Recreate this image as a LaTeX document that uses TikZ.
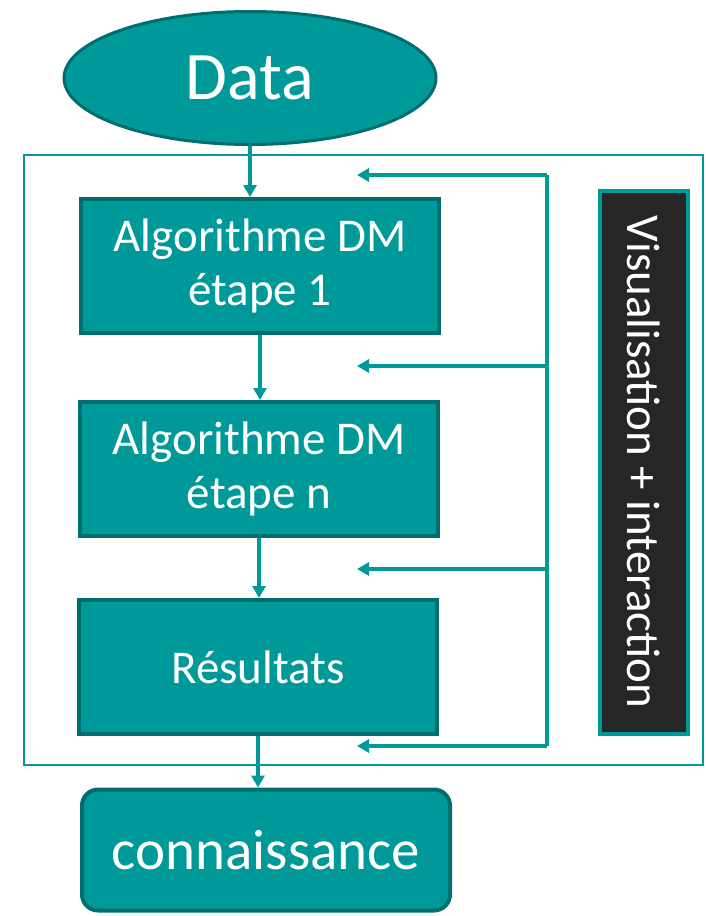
\documentclass[tikz,border=0pt]{standalone}
\usepackage{fontspec}
\setmainfont{Carlito}
\usepackage{tikz}
\usetikzlibrary{arrows.meta,shapes.geometric,positioning}
\definecolor{tealfill}{RGB}{0,153,153}
\definecolor{tealdark}{RGB}{0,110,110}
\definecolor{panelgray}{RGB}{38,38,38}

\begin{document}
\begin{tikzpicture}[x=1pt,y=-1pt,>={Triangle[length=12pt,width=13pt]},
                    flow/.style={->,draw=tealfill,line width=4pt},
                    algo node/.style={rectangle,draw=tealdark,fill=tealfill,line width=4pt,
                      text=white,minimum width=358pt,minimum height=134pt,align=center,
                      font=\fontsize{47}{54}\selectfont}]

  \useasboundingbox (0,0) rectangle (706,916);

  % main chain
  \node[ellipse,draw=tealdark,fill=tealfill,line width=3pt,text=white,inner sep=0pt,
        minimum width=372pt,minimum height=133pt,font=\fontsize{68}{68}\selectfont]
        (data) at (250,78) {Data};
  \node[algo node] (algo1) at (260,266) {Algorithme DM\\étape 1};
  \node[algo node] (algon) at (259,469) {Algorithme DM\\étape n};
  \node[algo node] (result) at (258,667) {Résultats};
  \node[rectangle,rounded corners=16pt,draw=tealdark,fill=tealfill,line width=4pt,text=white,
        minimum width=368pt,minimum height=121pt,font=\fontsize{57}{57}\selectfont]
        (knowledge) at (266,850) {connaissance};

  % frame
  \draw[tealfill,line width=2.5pt] (24,155) rectangle (703,765);

  % side panel
  \node[rectangle,rotate=-90,draw=tealfill,fill=panelgray,line width=4pt,text=white,
        minimum width=543pt,minimum height=88pt,font=\fontsize{47}{47}\selectfont]
        (vis) at (644,462) {Visualisation + interaction};

  \draw[flow] (data.south) -- (data.south |- algo1.north);
  \draw[flow] (algo1.south) -- (algo1.south |- algon.north);
  \draw[flow] (algon.south) -- (algon.south |- result.north);
  \draw[flow] (result.south) -- (result.south |- knowledge.north);

  % feedback
  \coordinate (fb1) at (547,175);
  \coordinate (fb4) at (547,746);
  \draw[tealfill,line width=4pt] (fb1) -- (fb4);
  \foreach \y/\n in {175/1,366/2,569/3,746/4}
    {
    \coordinate (back\n) at (547,\y);
    \coordinate (tip\n) at (357,\y);
    \draw[flow] (back\n) -- (tip\n);
    }
\end{tikzpicture}
\end{document}
